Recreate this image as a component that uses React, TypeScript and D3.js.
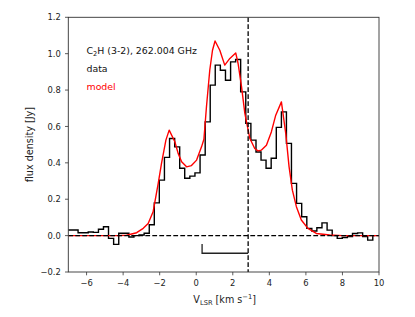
import React from "react";
import * as d3 from "d3";

// Channel centre velocities (km/s) of the observed spectrum
const dataVelocity = [
  -7.16, -6.88, -6.6, -6.33, -6.05, -5.77, -5.49, -5.21, -4.94, -4.66, -4.38,
  -4.1, -3.82, -3.55, -3.27, -2.99, -2.71, -2.43, -2.16, -1.88, -1.6, -1.32,
  -1.04, -0.77, -0.49, -0.21, 0.07, 0.35, 0.63, 0.9, 1.18, 1.46, 1.74, 2.02,
  2.29, 2.57, 2.85, 3.13, 3.41, 3.68, 3.96, 4.24, 4.52, 4.8, 5.07, 5.35, 5.63,
  5.91, 6.19, 6.46, 6.74, 7.02, 7.3, 7.58, 7.85, 8.13, 8.41, 8.69, 8.97, 9.24,
  9.52, 9.8,
];
// Observed flux density (Jy)
const dataFlux = [
  0.031, 0.031, 0.031, 0.016, 0.016, 0.02, 0.018, 0.035, 0.049, -0.015, -0.048,
  0.013, 0.013, -0.008, 0.0, 0.003, 0.013, 0.06, 0.18, 0.305, 0.43, 0.534,
  0.488, 0.37, 0.315, 0.327, 0.345, 0.443, 0.625, 0.827, 0.937, 0.909, 0.854,
  0.955, 0.968, 0.79, 0.617, 0.525, 0.46, 0.415, 0.37, 0.425, 0.595, 0.68,
  0.507, 0.287, 0.177, 0.104, 0.04, 0.025, 0.043, 0.07, 0.03, 0.0, -0.015,
  -0.01, -0.005, 0.012, 0.015, -0.005, -0.025, 0.0,
];
// Model curve
const modelVelocity = [
  -7, -5, -4.3, -3.81, -3.26, -2.9, -2.63, -2.36, -2.08, -1.9, -1.66, -1.48,
  -1.17, -0.99, -0.8, -0.53, -0.26, 0.02, 0.29, 0.42, 0.56, 0.74, 0.89, 1.03,
  1.29, 1.56, 1.84, 2.16, 2.29, 2.48, 2.66, 2.93, 3.2, 3.38, 3.57, 3.84, 4.11,
  4.35, 4.66, 4.9, 5.08, 5.26, 5.48, 5.75, 6.11, 6.57, 7.3, 8, 10,
];
const modelFlux = [
  0, 0, 0.0, 0.002, 0.016, 0.04, 0.067, 0.131, 0.287, 0.397, 0.525, 0.58,
  0.516, 0.452, 0.406, 0.378, 0.385, 0.415, 0.488, 0.53, 0.708, 0.909, 1.019,
  1.07, 1.019, 0.937, 0.974, 1.004, 0.946, 0.818, 0.672, 0.535, 0.479, 0.466,
  0.47, 0.497, 0.57, 0.662, 0.735, 0.56, 0.378, 0.25, 0.159, 0.086, 0.04,
  0.012, 0.003, 0, 0,
];

const xTicks = [-6, -4, -2, 0, 2, 4, 6, 8, 10];
const yTicks = [-0.2, 0.0, 0.2, 0.4, 0.6, 0.8, 1.0, 1.2];
const xDomain = [-7, 10];
const yDomain = [-0.2, 1.2];
const systemicVelocity = 2.84;
const bracketStart = 0.32;
const bracketLevel = -0.097;
const bracketTop = -0.046;

const W = 415;
const H = 317;
const L = 68.3;
const R = 379;
const T = 17.3;
const B = 272;

const fmtMinus = (s: string) => s.replace("-", "\u2212");

export default function App() {
  const x = d3.scaleLinear().domain(xDomain).range([L, R]);
  const y = d3.scaleLinear().domain(yDomain).range([B, T]);

  const dataPts: [number, number][] = dataVelocity.map((v, i) => [v, dataFlux[i]]);
  const modelPts: [number, number][] = modelVelocity.map((v, i) => [v, modelFlux[i]]);

  const stepLine = d3
    .line<[number, number]>()
    .x((d) => x(d[0]))
    .y((d) => y(d[1]))
    .curve(d3.curveStep);
  const modelLine = d3
    .line<[number, number]>()
    .x((d) => x(d[0]))
    .y((d) => y(d[1]))
    .curve(d3.curveLinear);

  const font = "DejaVu Sans, sans-serif";
  const axisColor = "#333";

  return (
    <svg
      width={W}
      height={H}
      style={{ position: "absolute", left: 0, top: 0, background: "#fff" }}
      fontFamily={font}
    >
      <defs>
        <clipPath id="plotclip">
          <rect x={L} y={T} width={R - L} height={B - T} />
        </clipPath>
      </defs>
      <rect x={0} y={0} width={W} height={H} fill="#fff" />
      <g clipPath="url(#plotclip)">
        <path d={stepLine(dataPts) || ""} fill="none" stroke="#000" strokeWidth={1.4} />
        <path d={modelLine(modelPts) || ""} fill="none" stroke="#ff0000" strokeWidth={1.4} strokeLinejoin="round" />
        <line
          x1={x(xDomain[0])}
          x2={x(xDomain[1])}
          y1={y(0)}
          y2={y(0)}
          stroke="#000"
          strokeWidth={1.3}
          strokeDasharray="4.8,2.2"
        />
        <line
          x1={x(systemicVelocity)}
          x2={x(systemicVelocity)}
          y1={y(yDomain[1])}
          y2={y(yDomain[0])}
          stroke="#000"
          strokeWidth={1.3}
          strokeDasharray="4.8,2.2"
        />
        <path
          d={`M${x(bracketStart)},${y(bracketTop)}V${y(bracketLevel)}H${x(systemicVelocity)}`}
          fill="none"
          stroke="#222"
          strokeWidth={1.3}
        />
      </g>

      {/* frame */}
      <rect x={L} y={T} width={R - L} height={B - T} fill="none" stroke={axisColor} strokeWidth={0.9} />

      {/* x ticks */}
      {xTicks.map((t) => (
        <g key={"xt" + t}>
          <line x1={x(t)} x2={x(t)} y1={B} y2={B + 3.3} stroke={axisColor} strokeWidth={0.8} />
          <text x={x(t)} y={B + 13.8} textAnchor="middle" fontSize={8.4} fill="#222">
            {fmtMinus(String(t))}
          </text>
        </g>
      ))}
      {/* y ticks */}
      {yTicks.map((t) => (
        <g key={"yt" + t}>
          <line x1={L - 3.3} x2={L} y1={y(t)} y2={y(t)} stroke={axisColor} strokeWidth={0.8} />
          <text x={L - 7.5} y={y(t) + 3.1} textAnchor="end" fontSize={8.4} fill="#222">
            {fmtMinus(d3.format(".1f")(t))}
          </text>
        </g>
      ))}

      {/* axis labels */}
      <text x={(L + R) / 2 + 1} y={302.5} textAnchor="middle" fontSize={9.6} fill="#222">
        V
        <tspan fontSize={6.7} dy={2}>LSR</tspan>
        <tspan dy={-2}> [km s</tspan>
        <tspan fontSize={6.7} dy={-3.6}>{"\u22121"}</tspan>
        <tspan dy={3.6}>]</tspan>
      </text>
      <text
        transform={`translate(32.5,${(T + B) / 2}) rotate(-90)`}
        textAnchor="middle"
        fontSize={9.6}
        fill="#222"
      >
        flux density [Jy]
      </text>

      {/* annotations */}
      <text x={86.5} y={54} fontSize={9.4} fill="#111">
        C<tspan fontSize={6.6} dy={2}>2</tspan>
        <tspan dy={-2}>H (3-2), 262.004 GHz</tspan>
      </text>
      <text x={86.5} y={72} fontSize={9.4} fill="#111">
        data
      </text>
      <text x={86.5} y={90} fontSize={9.4} fill="#ff0000">
        model
      </text>
    </svg>
  );
}
